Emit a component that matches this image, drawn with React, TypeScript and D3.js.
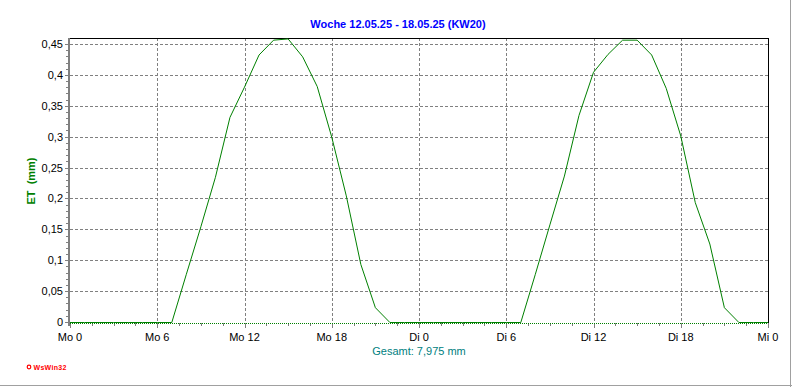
import React, { useEffect, useRef } from "react";
import * as d3 from "d3";

// hourly ET values (mm), Mo 0 .. Mo 23
const moValues = [
  0, 0, 0, 0, 0, 0, 0, 0, 0.078, 0.155, 0.235, 0.332, 0.381, 0.433, 0.457,
  0.459, 0.43, 0.382, 0.3, 0.205, 0.094, 0.024, 0, 0,
];
// hourly ET values (mm), Di 0 .. Di 23
const diValues = [
  0, 0, 0, 0, 0, 0, 0, 0, 0.078, 0.158, 0.237, 0.335, 0.405, 0.434, 0.457,
  0.457, 0.433, 0.379, 0.302, 0.194, 0.127, 0.024, 0, 0,
];
// Mi 0
const miValues = [0];

const xTickLabels = ["Mo 0", "Mo 6", "Mo 12", "Mo 18", "Di 0", "Di 6", "Di 12", "Di 18", "Mi 0"];
const yTicks = [0, 0.05, 0.1, 0.15, 0.2, 0.25, 0.3, 0.35, 0.4, 0.45];

const title = "Woche 12.05.25 - 18.05.25 (KW20)";
const yLabel = "ET  (mm)";
const total = "Gesamt: 7,975 mm";

const W = 792;
const H = 387;
const font = "'Liberation Sans', Arial, sans-serif";

const App = () => {
  const svgRef = useRef<SVGSVGElement>(null);

  useEffect(() => {
    const svg = d3.select(svgRef.current);
    svg.selectAll("*").remove();

    const margin = { top: 38, right: 768, bottom: 322, left: 70 };
    const data = [...moValues, ...diValues, ...miValues].map((v, i) => ({ t: i, v }));

    const x = d3.scaleLinear().domain([0, 48]).range([margin.left, margin.right]);
    const y = d3.scaleLinear().domain([0, 0.4597]).range([margin.bottom, margin.top]);
    const px = (v: number) => Math.round(v) + 0.5;

    svg.append("rect").attr("width", W).attr("height", H).attr("fill", "#ffffff");

    // outer frame
    svg.append("line").attr("x1", 0).attr("x2", W).attr("y1", H - 1.5).attr("y2", H - 1.5)
      .attr("stroke", "#a0a0a0");
    svg.append("line").attr("x1", W - 1.5).attr("x2", W - 1.5).attr("y1", 0).attr("y2", H)
      .attr("stroke", "#a0a0a0");

    // horizontal grid
    svg.append("g")
      .selectAll("line")
      .data(yTicks.filter((d) => d > 0))
      .join("line")
      .attr("x1", margin.left)
      .attr("x2", margin.right)
      .attr("y1", (d) => px(y(d)))
      .attr("y2", (d) => px(y(d)))
      .attr("stroke", "#808080")
      .attr("stroke-dasharray", "3,2");

    // vertical grid
    const majorHours = d3.range(0, 49, 6);
    svg.append("g")
      .selectAll("line")
      .data(majorHours.filter((d) => d > 0 && d < 48))
      .join("line")
      .attr("x1", (d) => px(x(d)))
      .attr("x2", (d) => px(x(d)))
      .attr("y1", margin.top)
      .attr("y2", margin.bottom)
      .attr("stroke", "#808080")
      .attr("stroke-dasharray", "3,2");

    // x ticks
    svg.append("g")
      .selectAll("line")
      .data(d3.range(0, 48.01, 1.5))
      .join("line")
      .attr("x1", (d) => px(x(d)))
      .attr("x2", (d) => px(x(d)))
      .attr("y1", margin.bottom + 1)
      .attr("y2", (d) => margin.bottom + (d % 6 === 0 ? 6 : 4))
      .attr("stroke", "#808080");

    svg.append("g")
      .selectAll("text")
      .data(majorHours)
      .join("text")
      .attr("x", (d) => x(d))
      .attr("y", margin.bottom + 19)
      .attr("text-anchor", "middle")
      .style("font-family", font)
      .style("font-size", "11px")
      .attr("fill", "#000000")
      .text((d, i) => xTickLabels[i]);

    // y minor / major ticks
    svg.append("g")
      .selectAll("line")
      .data(d3.range(0, 46).map((i) => i / 100))
      .join("line")
      .attr("x1", (d) => (Math.round(d * 100) % 5 === 0 ? 65 : 66))
      .attr("x2", 68)
      .attr("y1", (d) => px(y(d)))
      .attr("y2", (d) => px(y(d)))
      .attr("stroke", "#808080");

    svg.append("g")
      .selectAll("text")
      .data(yTicks)
      .join("text")
      .attr("x", 63)
      .attr("y", (d) => y(d) + 4)
      .attr("text-anchor", "end")
      .style("font-family", font)
      .style("font-size", "11px")
      .attr("fill", "#000000")
      .text((d) => String(+d.toFixed(2)).replace(".", ","));

    // axes frame
    svg.append("line").attr("x1", 69).attr("x2", 69).attr("y1", margin.top).attr("y2", margin.bottom + 4)
      .attr("stroke", "#808080").attr("stroke-width", 2);
    svg.append("line").attr("x1", margin.left).attr("x2", margin.right + 1).attr("y1", margin.top + 0.5).attr("y2", margin.top + 0.5)
      .attr("stroke", "#000000");
    svg.append("line").attr("x1", margin.right + 0.5).attr("x2", margin.right + 0.5).attr("y1", margin.top).attr("y2", margin.bottom + 1)
      .attr("stroke", "#000000");

    // zero reference line
    svg.append("line")
      .attr("x1", margin.left)
      .attr("x2", margin.right)
      .attr("y1", margin.bottom + 1.5)
      .attr("y2", margin.bottom + 1.5)
      .attr("stroke", "#008000")
      .attr("stroke-dasharray", "1,1");

    // ET line
    const line = d3.line<{ t: number; v: number }>()
      .x((d) => x(d.t))
      .y((d) => y(d.v) + 0.5);

    svg.append("path")
      .datum(data)
      .attr("d", line)
      .attr("fill", "none")
      .attr("stroke", "#008000")
      .attr("stroke-width", 1);

    // title
    svg.append("text")
      .attr("x", 398)
      .attr("y", 28)
      .attr("text-anchor", "middle")
      .style("font-family", font)
      .style("font-size", "11px")
      .style("font-weight", "bold")
      .attr("fill", "#0000ff")
      .text(title);

    // y label
    svg.append("text")
      .attr("transform", `translate(35, 181) rotate(-90)`)
      .attr("text-anchor", "middle")
      .style("font-family", font)
      .style("font-size", "11px")
      .style("font-weight", "bold")
      .style("white-space", "pre")
      .attr("fill", "#008000")
      .text(yLabel);

    // total
    svg.append("text")
      .attr("x", 419)
      .attr("y", 355)
      .attr("text-anchor", "middle")
      .style("font-family", font)
      .style("font-size", "11px")
      .attr("fill", "#008080")
      .text(total);

    // logo
    svg.append("circle").attr("cx", 29).attr("cy", 367).attr("r", 1.8)
      .attr("fill", "none").attr("stroke", "#ff0000").attr("stroke-width", 1.2);
    svg.append("text")
      .attr("x", 33.5)
      .attr("y", 370)
      .style("font-family", font)
      .style("font-size", "7px")
      .style("font-weight", "bold")
      .style("letter-spacing", "0.3px")
      .attr("fill", "#ff0000")
      .text("WsWin32");
  }, []);

  return (
    <svg
      ref={svgRef}
      width={W}
      height={H}
      style={{ position: "fixed", left: 0, top: 0, display: "block" }}
    />
  );
};

export default App;
